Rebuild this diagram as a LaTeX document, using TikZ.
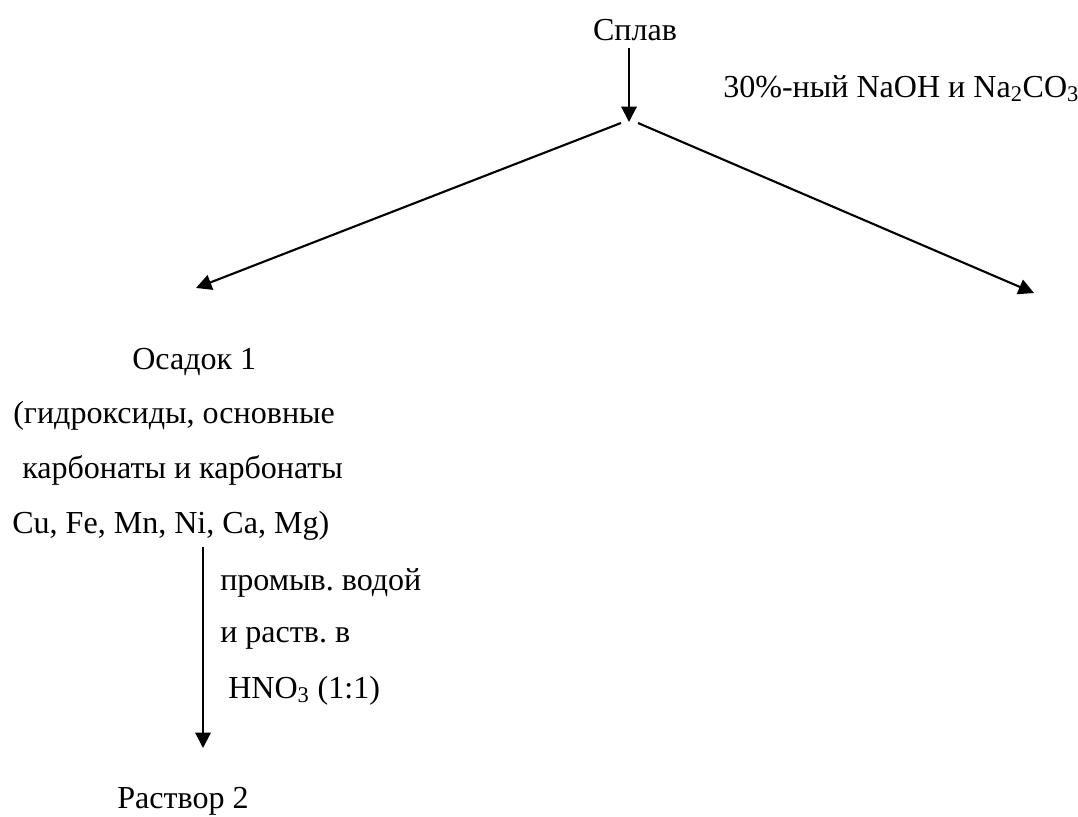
\documentclass[tikz,border=0pt]{standalone}
\usepackage{fontspec}
\setmainfont{Liberation Serif}
\frenchspacing
\usetikzlibrary{arrows.meta}

\begin{document}
\begin{tikzpicture}[
        txt/.style={inner sep=0pt, anchor=base west, font=\fontsize{22.8pt}{28pt}\selectfont},
        arr/.style={line width=1.5pt, -{Triangle[length=11pt,width=11pt]}}
    ]
        \useasboundingbox (0,0) rectangle (26.95,-20.4);

        \node[txt, anchor=base] at (15.875,-1.0) (alloy) {Сплав};
        \node[txt] at (18.075,-2.425) (reag) {30\%-ный NaOH и Na\textsubscript{2}CO\textsubscript{3}};

        \coordinate (top) at (15.725,-1.2);
        \coordinate (split) at (15.725,-3.05);
        \coordinate (splitL) at (15.525,-3.075);
        \coordinate (splitR) at (15.95,-3.075);
        \coordinate (tipL) at (4.9,-7.2);
        \coordinate (tipR) at (25.85,-7.325);

        \draw[arr] (top) -- (split);
        \draw[arr] (splitL) -- (tipL);
        \draw[arr] (splitR) -- (tipR);

        \node[txt] at (3.3,-9.225) (ppt) {Осадок 1};
        \node[txt] at (0.325,-10.575) (ppt2) {(гидроксиды, основные};
        \node[txt] at (0.55,-11.95) (ppt3) {карбонаты и карбонаты};
        \node[txt] at (0.3,-13.325) (ppt4) {Cu, Fe, Mn, Ni, Ca, Mg)};

        \coordinate (wash) at (5.075,-13.675);
        \coordinate (sol) at (5.075,-18.7);
        \draw[arr] (wash) -- (sol);

        \node[txt] at (5.5,-14.75) (step1) {промыв. водой};
        \node[txt] at (5.5,-16.05) (step2) {и раств. в};
        \node[txt] at (5.7,-17.45) (step3) {HNO\textsubscript{3} (1:1)};

        \node[txt] at (2.925,-20.2) (soln) {Раствор 2};
    \end{tikzpicture}
\end{document}
